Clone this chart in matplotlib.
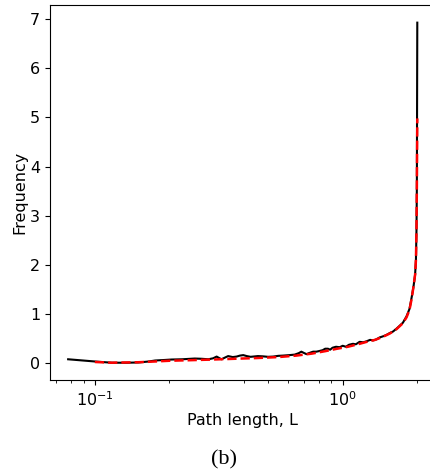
import matplotlib
matplotlib.use("Agg")
import matplotlib.pyplot as plt

# simulated (black) distribution of path lengths
L_sim = [0.078, 0.100, 0.117, 0.135, 0.150, 0.165, 0.175, 0.190, 0.204, 0.225,
         0.253, 0.270, 0.287, 0.300, 0.310, 0.324, 0.335, 0.345, 0.360, 0.373,
         0.385, 0.397, 0.410, 0.425, 0.435, 0.455, 0.475, 0.500, 0.524, 0.550,
         0.575, 0.611, 0.640, 0.665, 0.681, 0.700, 0.714, 0.740, 0.760, 0.783,
         0.800, 0.830, 0.850, 0.872, 0.890, 0.910, 0.940, 0.972, 1.000, 1.030,
         1.060, 1.100, 1.130, 1.170, 1.210, 1.246, 1.290, 1.330, 1.367, 1.410,
         1.450, 1.500, 1.550, 1.596, 1.650, 1.700, 1.750, 1.810, 1.860, 1.900,
         1.930, 1.960, 1.975, 1.985, 1.992, 2.000]
f_sim = [0.075, 0.030, 0.005, 0.005, 0.010, 0.030, 0.050, 0.060, 0.070, 0.075,
         0.090, 0.085, 0.075, 0.095, 0.130, 0.075, 0.110, 0.140, 0.120, 0.130,
         0.150, 0.160, 0.140, 0.125, 0.130, 0.140, 0.135, 0.125, 0.130, 0.145,
         0.150, 0.160, 0.170, 0.200, 0.230, 0.200, 0.180, 0.210, 0.230, 0.230,
         0.240, 0.260, 0.290, 0.290, 0.270, 0.310, 0.330, 0.320, 0.350, 0.330,
         0.370, 0.390, 0.380, 0.430, 0.420, 0.440, 0.470, 0.460, 0.480, 0.520,
         0.540, 0.570, 0.610, 0.640, 0.700, 0.760, 0.820, 0.950, 1.100, 1.350,
         1.550, 1.800, 2.100, 2.700, 3.600, 6.930]

# theoretical (red dashed) curve
L_th = [0.100, 0.117, 0.150, 0.175, 0.200, 0.238, 0.300, 0.390, 0.450, 0.550,
        0.650, 0.750, 0.850, 0.950, 1.050, 1.150, 1.250, 1.350, 1.450, 1.550,
        1.650, 1.750, 1.810, 1.860, 1.900, 1.930, 1.960, 1.975, 1.985, 1.992,
        2.000]
f_th = [0.020, 0.005, 0.015, 0.030, 0.045, 0.055, 0.070, 0.090, 0.100, 0.120,
        0.150, 0.190, 0.240, 0.290, 0.330, 0.380, 0.430, 0.470, 0.530, 0.600,
        0.690, 0.810, 0.930, 1.080, 1.320, 1.550, 1.800, 2.100, 2.700, 3.600,
        4.980]

plt.rcParams['font.size'] = 11.5

fig = plt.figure(figsize=(4.31, 4.74), dpi=100)
ax = fig.add_axes([0.116, 0.198, 0.893, 0.7915])

ax.plot(L_sim, f_sim, color='black', linewidth=1.5)
ax.plot(L_th, f_th, color='red', linestyle='--', linewidth=1.8)
ax.set_xscale('log')
ax.set_xlim(0.0659, 2.355)
ax.set_ylim(-0.35, 7.29)

ax.set_xlabel('Path length, L', labelpad=3)
ax.set_ylabel('Frequency', labelpad=2)

fig.text(0.52, 0.03, '(b)', ha='center', va='center',
         family='Liberation Serif', fontsize=16)

fig.savefig('out.png', dpi=100)
